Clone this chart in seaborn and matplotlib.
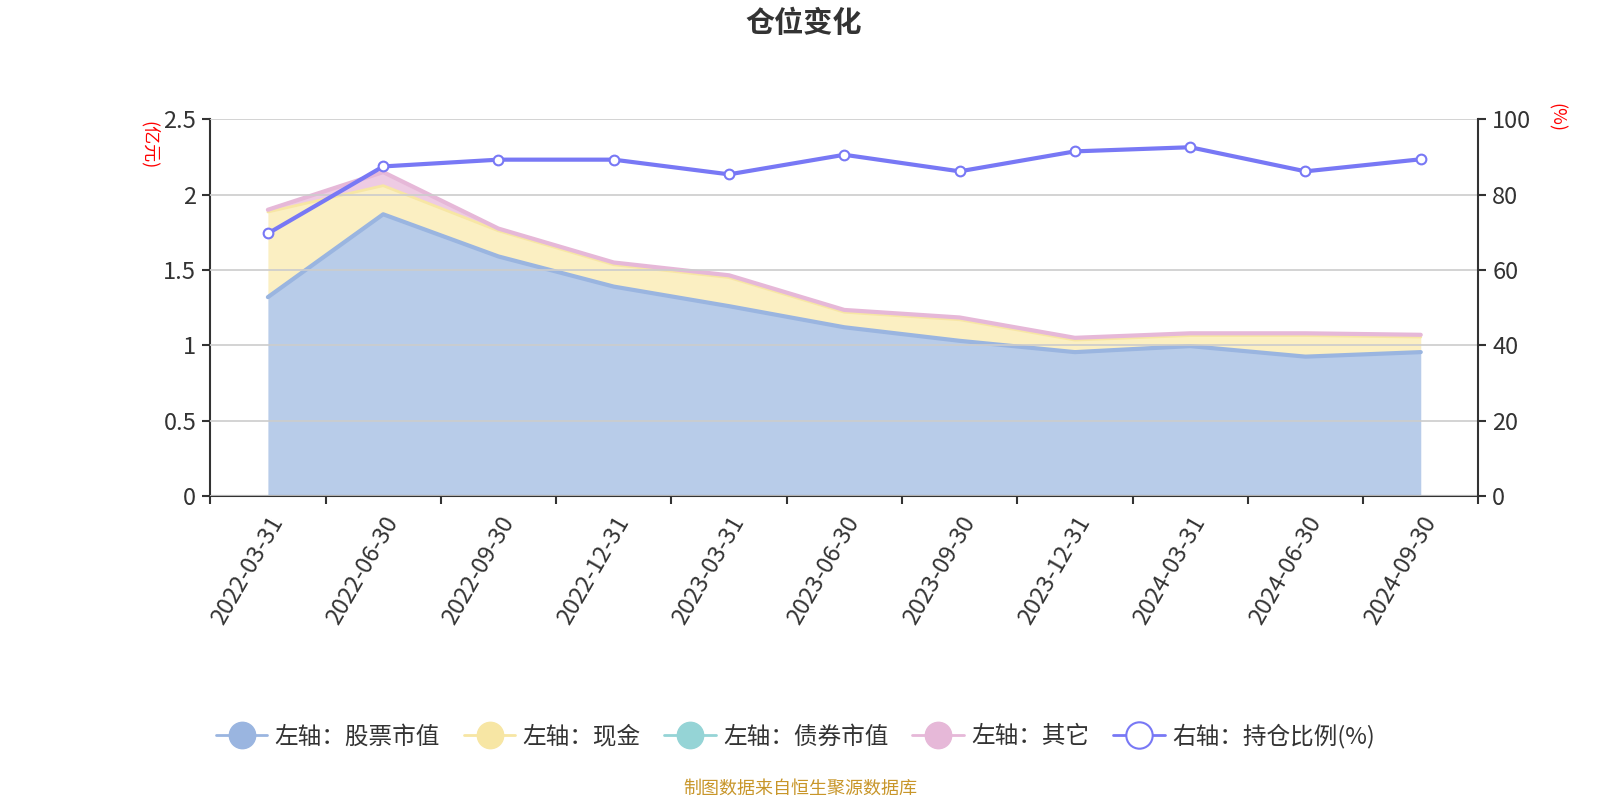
import numpy as np
import pandas as pd
import matplotlib
matplotlib.use("Agg")
import matplotlib.pyplot as plt
from matplotlib.lines import Line2D
import seaborn as sns

# quarter-end dates
dates = ["2022-03-31", "2022-06-30", "2022-09-30", "2022-12-31", "2023-03-31",
         "2023-06-30", "2023-09-30", "2023-12-31", "2024-03-31", "2024-06-30",
         "2024-09-30"]
# left axis (亿元)
stock = [1.32, 1.87, 1.59, 1.39, 1.26, 1.12, 1.03, 0.955, 0.995, 0.925, 0.955]
cash = [0.565, 0.19, 0.17, 0.145, 0.19, 0.10, 0.14, 0.08, 0.07, 0.14, 0.10]
bond = [0, 0, 0, 0, 0, 0, 0, 0, 0, 0, 0]
other = [0.015, 0.09, 0.015, 0.015, 0.015, 0.015, 0.015, 0.015, 0.015, 0.015, 0.015]
# right axis (%)
ratio = [69.7, 87.5, 89.3, 89.3, 85.4, 90.6, 86.2, 91.5, 92.6, 86.2, 89.4]

df = pd.DataFrame({"date": dates, "stock": stock, "cash": cash,
                   "bond": bond, "other": other, "ratio": ratio})
df["x"] = np.arange(len(df))
df["s1"] = df["stock"]
df["s2"] = df["s1"] + df["cash"]
df["s3"] = df["s2"] + df["bond"]
df["s4"] = df["s3"] + df["other"]

c_stock = "#9ab5e0"
c_cash = "#f7e6a4"
c_bond = "#95d4d6"
c_other = "#e6b8d8"
c_ratio = "#7878f5"

sns.set_theme(style="white")
plt.rcParams["font.family"] = ["Noto Sans CJK SC", "DejaVu Sans"]

fig = plt.figure(figsize=(16, 8), dpi=100)
ax = fig.add_axes([0.1314, 0.380, 0.7926, 0.4708])

# stacked areas
ax.fill_between(df["x"], 0, df["s1"], color="#b8cce9", lw=0, zorder=1)
ax.fill_between(df["x"], df["s1"], df["s2"], color="#fbefc2", lw=0, zorder=1)
ax.fill_between(df["x"], df["s2"], df["s3"], color="#bfe5e6", lw=0, zorder=1)
ax.fill_between(df["x"], df["s3"], df["s4"], color="#eecbe3", lw=0, zorder=1)
sns.lineplot(data=df, x="x", y="s1", ax=ax, color=c_stock, lw=3, zorder=2)
sns.lineplot(data=df, x="x", y="s2", ax=ax, color=c_cash, lw=2, zorder=2)
sns.lineplot(data=df, x="x", y="s4", ax=ax, color=c_other, lw=3, zorder=2)

ax.set_xlim(-0.5, len(df) - 0.5)
ax.set_ylim(0, 2.5)
ax.set_yticks([0, 0.5, 1, 1.5, 2, 2.5])
ax.set_yticklabels(["0", "0.5", "1", "1.5", "2", "2.5"])
ax.yaxis.grid(True, color="#cccccc", lw=1.2)
ax.set_axisbelow(False)
for g in ax.get_ygridlines():
    g.set_zorder(1.5)
ax.set_xlabel("")
ax.set_ylabel("")

# category labels at centres, tick marks at boundaries
ax.set_xticks(df["x"])
ax.set_xticklabels(dates, rotation=60, ha="right", rotation_mode="anchor",
                   fontsize=17, color="#333333")
ax.set_xticks(np.arange(-0.5, len(df)), minor=True)
ax.tick_params(axis="x", which="major", length=0, pad=12)
ax.tick_params(axis="x", which="minor", length=6, width=1.5, color="#333333",
               direction="out", bottom=True)
ax.tick_params(axis="y", length=6, width=1.5, color="#333333", left=True,
               labelsize=17, labelcolor="#333333", pad=4)

for side in ["top", "right"]:
    ax.spines[side].set_visible(False)
for side in ["left", "bottom"]:
    ax.spines[side].set_color("#333333")
    ax.spines[side].set_linewidth(1.5)

# right axis: holding ratio
ax2 = ax.twinx()
sns.lineplot(data=df, x="x", y="ratio", ax=ax2, color=c_ratio, lw=3,
             marker="o", markersize=7, markerfacecolor="white",
             markeredgecolor=c_ratio, markeredgewidth=1.5, zorder=5)
ax2.set_ylim(0, 100)
ax2.set_yticks([0, 20, 40, 60, 80, 100])
ax2.set_ylabel("")
ax2.grid(False)
ax2.tick_params(axis="y", length=6, width=1.5, color="#333333", right=True,
                labelsize=17, labelcolor="#333333", pad=4)
for side in ["top", "left", "bottom"]:
    ax2.spines[side].set_visible(False)
ax2.spines["right"].set_color("#333333")
ax2.spines["right"].set_linewidth(1.5)

# unit labels
fig.text(0.093, 0.819, "(亿元)", color="red", fontsize=13, rotation=-90,
         ha="center", va="center")
fig.text(0.9726, 0.853, "(%)", color="red", fontsize=13, rotation=-90,
         ha="center", va="center")

fig.text(0.502, 0.971, "仓位变化", fontsize=21, fontweight="bold",
         color="#333333", ha="center", va="center")

handles = [
    Line2D([], [], color=c_stock, lw=2, marker="o", markersize=19,
           markerfacecolor=c_stock, markeredgecolor=c_stock),
    Line2D([], [], color=c_cash, lw=2, marker="o", markersize=19,
           markerfacecolor=c_cash, markeredgecolor=c_cash),
    Line2D([], [], color=c_bond, lw=2, marker="o", markersize=19,
           markerfacecolor=c_bond, markeredgecolor=c_bond),
    Line2D([], [], color=c_other, lw=2, marker="o", markersize=19,
           markerfacecolor=c_other, markeredgecolor=c_other),
    Line2D([], [], color=c_ratio, lw=2, marker="o", markersize=19,
           markerfacecolor="white", markeredgecolor=c_ratio,
           markeredgewidth=1.5),
]
labels = ["左轴：股票市值", "左轴：现金", "左轴：债券市值", "左轴：其它", "右轴：持仓比例(%)"]
fig.legend(handles, labels, loc="center", bbox_to_anchor=(0.497, 0.080),
           ncol=5, frameon=False, fontsize=17, handlelength=2.2,
           handletextpad=0.3, columnspacing=1.0, labelcolor="#333333")

fig.text(0.5, 0.014, "制图数据来自恒生聚源数据库", fontsize=13,
         color="#c8962a", ha="center", va="center")

fig.savefig("out.png", dpi=100)
